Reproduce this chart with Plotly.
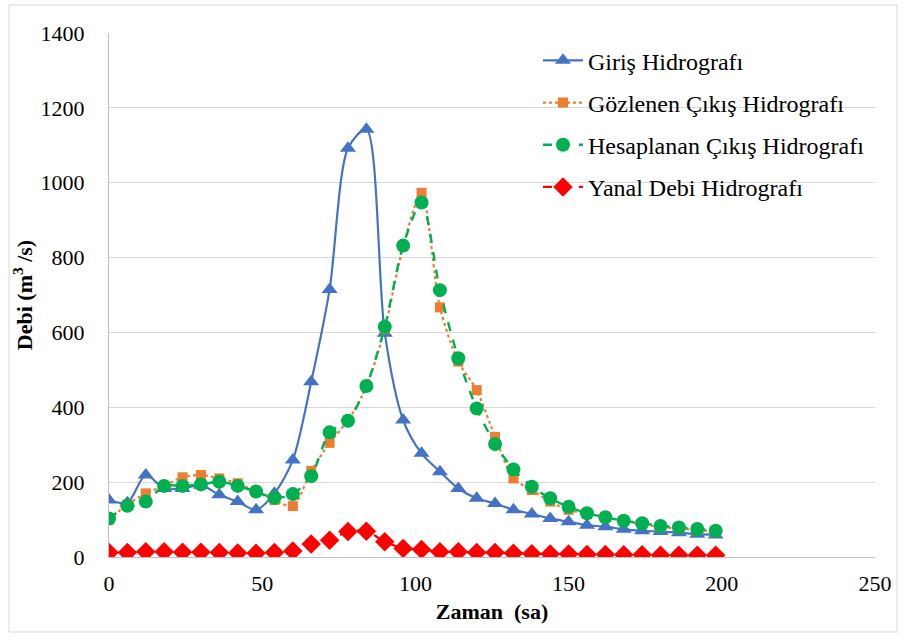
import plotly.graph_objects as go

zaman = [0, 6, 12, 18, 24, 30, 36, 42, 48, 54, 60, 66, 72, 78, 84, 90, 96, 102, 108, 114,
         120, 126, 132, 138, 144, 150, 156, 162, 168, 174, 180, 186, 192, 198]

giris = [152, 145, 219, 183, 183, 192, 166, 148, 126, 170, 259, 468, 715, 1092, 1143, 598,
         366, 277, 228, 183, 157, 143, 126, 115, 103, 94, 85, 81, 74, 70, 68, 65, 61, 59]

gozlenen = [100, 140, 170, 190, 213, 219, 210, 197, 175, 152, 136, 230, 305, 365, 455, 610,
            830, 973, 667, 522, 446, 321, 210, 179, 148, 126, 115, 108, 96, 88, 80, 76, 72, 68]

hesaplanan = [103, 137, 148, 190, 190, 194, 201, 190, 175, 158, 168, 216, 333, 364, 457, 615,
              832, 947, 713, 531, 397, 302, 234, 188, 157, 134, 117, 106, 97, 90, 83, 79, 75, 70]

yanal = [12, 12, 14, 14, 13, 13, 12, 11, 10, 12, 16, 35, 45, 68, 69, 41,
         23, 20, 14, 14, 12, 12, 10, 9, 8, 8, 7, 7, 6, 6, 5, 5, 5, 5]

names = ["Giriş Hidrografı", "Gözlenen Çıkış Hidrografı",
         "Hesaplanan Çıkış Hidrografı", "Yanal Debi Hidrografı"]

y_ticks = [0, 200, 400, 600, 800, 1000, 1200, 1400]
x_ticks = [0, 50, 100, 150, 200, 250]

FONT = "Liberation Serif"

fig = go.Figure()
fig.add_trace(go.Scatter(x=zaman, y=giris, name=names[0], mode="lines+markers",
                         line=dict(color="#4472C4", width=2.2, shape="spline", smoothing=0.8),
                         marker=dict(symbol="triangle-up", size=14, color="#4472C4"),
                         legendgroup="a"))
fig.add_trace(go.Scatter(x=zaman, y=gozlenen, name=names[1], mode="lines+markers",
                         line=dict(color="#ED7D31", width=2.2, dash="dot", shape="spline", smoothing=0.8),
                         marker=dict(symbol="square", size=10, color="#ED7D31"),
                         legendgroup="b"))
fig.add_trace(go.Scatter(x=zaman, y=hesaplanan, name=names[2], mode="lines+markers",
                         line=dict(color="#00B050", width=2.4, dash="dash", shape="spline", smoothing=0.8),
                         marker=dict(symbol="circle", size=14, color="#00B050"),
                         legendgroup="c"))
fig.add_trace(go.Scatter(x=zaman, y=yanal, name=names[3], mode="lines+markers",
                         line=dict(color="#FF0000", width=2.2, dash="dash", shape="spline", smoothing=0.8),
                         marker=dict(symbol="diamond", size=15, color="#FF0000"),
                         legendgroup="d"))

fig.update_layout(
    width=905, height=637,
    margin=dict(l=109, r=30, t=33, b=80),
    paper_bgcolor="white", plot_bgcolor="white",
    font=dict(family=FONT, size=22, color="#000000"),
    showlegend=True,
    legend=dict(x=0.56, y=0.99, xanchor="left", yanchor="top",
                bgcolor="rgba(0,0,0,0)", font=dict(family=FONT, size=24, color="#000000"),
                tracegroupgap=8, itemwidth=40),
    xaxis=dict(range=[0, 250], tickvals=x_ticks, showgrid=False, zeroline=False,
               showline=True, linecolor="#BFBFBF", linewidth=1,
               ticks="", ticklabelstandoff=7,
               tickfont=dict(family=FONT, size=22, color="#000000"),
               title=dict(text="<b>Zaman  (sa)</b>", font=dict(family=FONT, size=22, color="#000000"), standoff=8)),
    yaxis=dict(range=[0, 1400], tickvals=y_ticks, showgrid=True, gridcolor="#D9D9D9",
               gridwidth=1, zeroline=False, showline=True, linecolor="#BFBFBF", linewidth=1,
               ticks="", ticklabelstandoff=19,
               tickfont=dict(family=FONT, size=22, color="#000000"),
               title=dict(text="<b>Debi (m<sup>3</sup> /s)</b>", font=dict(family=FONT, size=22, color="#000000"), standoff=1)),
    shapes=[dict(type="rect", xref="paper", yref="paper",
                 x0=-0.1305, x1=1.0287, y0=-0.1431, y1=1.0534,
                 line=dict(color="#D9D9D9", width=1), fillcolor="rgba(0,0,0,0)", layer="below")],
)

fig.write_html("out.html")
